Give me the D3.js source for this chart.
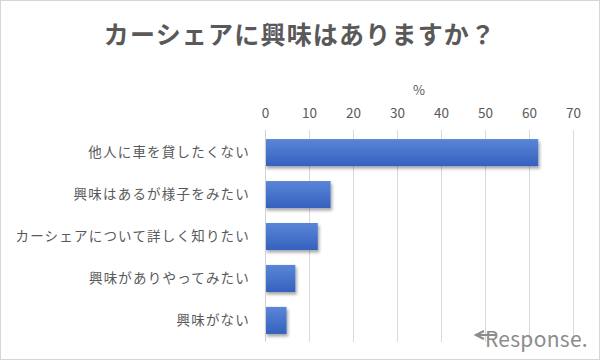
<!DOCTYPE html>
<html><head><meta charset="utf-8">
<script src="https://cdn.jsdelivr.net/npm/d3@7"></script>
<style>
html,body{margin:0;padding:0;background:#fff;}
svg{display:block;}
text{font-family:"Noto Sans CJK JP","Noto Sans",sans-serif;}
</style></head>
<body>
<svg id="chart" width="600" height="360"></svg>
<script>
const title = "カーシェアに興味はありますか？";
const categories = ["他人に車を貸したくない","興味はあるが様子をみたい","カーシェアについて詳しく知りたい","興味がありやってみたい","興味がない"];
const values = [62.1, 14.9, 12.0, 6.9, 4.9];
const tickValues = [0,10,20,30,40,50,60,70];
const unitLabel = "%";
const watermark = "Response.";

const svg = d3.select("#chart");
const W = 600, H = 360;

svg.append("rect").attr("x",0.5).attr("y",0.5).attr("width",W-1).attr("height",H-1)
  .attr("fill","#fff").attr("stroke","#d6d6d6");

const defs = svg.append("defs");
const grad = defs.append("linearGradient").attr("id","barGrad").attr("x1",0).attr("y1",0).attr("x2",0).attr("y2",1);
grad.append("stop").attr("offset","0%").attr("stop-color","#5a86d8");
grad.append("stop").attr("offset","100%").attr("stop-color","#3561bd");
const filt = defs.append("filter").attr("id","shadow").attr("x","-10%").attr("y","-20%").attr("width","130%").attr("height","160%");
filt.append("feDropShadow").attr("dx",1.5).attr("dy",2.5).attr("stdDeviation",1.6).attr("flood-color","#000").attr("flood-opacity",0.35);

const x = d3.scaleLinear().domain([0,70]).range([265,573]);
const y = d3.scaleBand().domain(categories).range([131.5,341.5]).paddingInner(0.355).paddingOuter(0.18);

// title
svg.append("text").attr("x",300).attr("y",44).attr("text-anchor","middle")
  .attr("font-size",25).attr("font-weight","bold").attr("letter-spacing",1.2)
  .attr("fill","#595959").text(title);

// unit
svg.append("text").attr("x",419).attr("y",95).attr("text-anchor","middle")
  .attr("font-size",13).attr("fill","#595959").text(unitLabel);

// gridlines
svg.append("g").selectAll("line").data(tickValues).join("line")
  .attr("x1",d=>x(d)+0.5).attr("x2",d=>x(d)+0.5)
  .attr("y1",130).attr("y2",342)
  .attr("stroke","#d9d9d9").attr("stroke-width",1);

// top axis
const axis = d3.axisTop(x).tickValues(tickValues).tickSize(0).tickPadding(0).tickFormat(d3.format("d"));
const ag = svg.append("g").attr("transform","translate(0,118)").call(axis);
ag.select(".domain").remove();
ag.selectAll("text").attr("font-size",13.5).attr("fill","#595959")
  .attr("font-family","'Noto Sans','DejaVu Sans',sans-serif");

// bars
svg.append("g").selectAll("rect").data(values).join("rect")
  .attr("x",x(0)).attr("y",(d,i)=>y(categories[i]))
  .attr("width",d=>x(d)-x(0)).attr("height",y.bandwidth())
  .attr("fill","url(#barGrad)").attr("filter","url(#shadow)");

// left axis line
svg.append("line").attr("x1",x(0)+0.5).attr("x2",x(0)+0.5).attr("y1",130).attr("y2",342)
  .attr("stroke","#d0d0d0");

// category labels
const la = d3.axisLeft(y).tickSize(0).tickPadding(0);
const lg = svg.append("g").attr("transform","translate(250,0)").call(la);
lg.select(".domain").remove();
lg.selectAll("text").attr("font-size",13.5).attr("letter-spacing",1.2).attr("fill","#595959")
  .attr("font-family","'Noto Sans CJK JP',sans-serif").attr("dy","0.35em");

// watermark
const wm = svg.append("g");
wm.append("text").attr("x",588).attr("y",347).attr("text-anchor","end")
  .attr("font-size",21).attr("fill","#8c8c8c").attr("letter-spacing",0.3)
  .attr("font-family","'DejaVu Sans',sans-serif").text(watermark);
wm.append("path").attr("d","M484,331 L476,335 L484,339 M476,335 L497,335")
  .attr("fill","none").attr("stroke","#8c8c8c").attr("stroke-width",2.2);
</script>
</body></html>
